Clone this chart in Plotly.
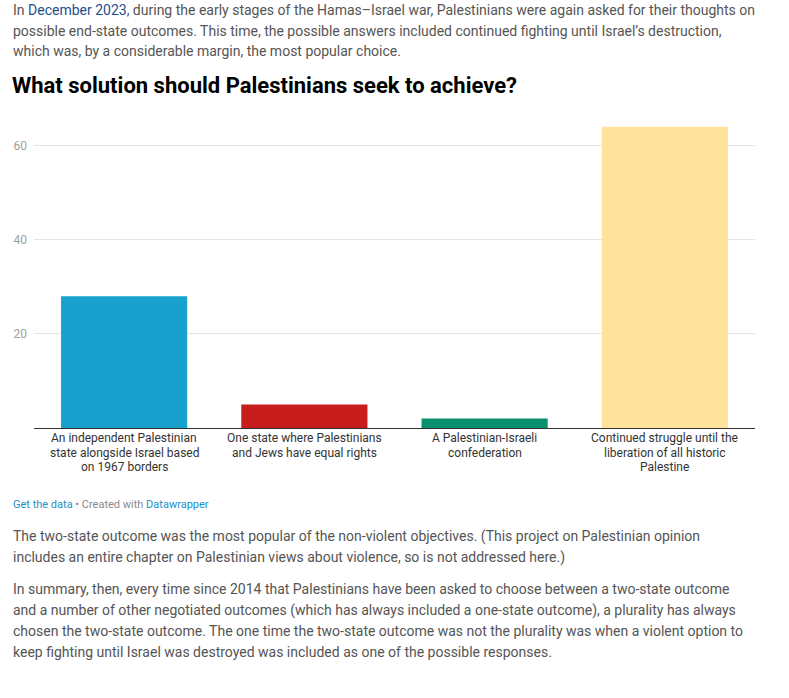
import plotly.graph_objects as go

categories = [
    "An independent Palestinian<br>state alongside Israel based<br>on 1967 borders",
    "One state where Palestinians<br>and Jews have equal rights",
    "A Palestinian-Israeli<br>confederation",
    "Continued struggle until the<br>liberation of all historic<br>Palestine",
]
values = [28, 5, 2, 64]
bar_colors = ["#18a1cd", "#c71e1d", "#09916f", "#ffe29c"]
y_ticks = [20, 40, 60]

W, H = 789, 698
L, R, T, B = 34, 34, 108, 270
PW, PH = W - L - R, H - T - B

def px(x):
    return (x - L) / PW

def py(y):
    return (H - B - y) / PH

fig = go.Figure()
fig.add_trace(go.Bar(
    x=list(range(len(categories))),
    y=values,
    marker=dict(color=bar_colors, line=dict(width=0)),
    width=0.7,
    hoverinfo="skip",
))

FONT = "Roboto"
ann = []

def line(text, x, y, size, color, bold=False):
    if bold:
        text = "<b>" + text + "</b>"
    ann.append(dict(text=text, xref="paper", yref="paper", x=px(x), y=py(y),
                    xanchor="left", yanchor="middle", showarrow=False,
                    borderpad=0, borderwidth=0,
                    font=dict(family=FONT, size=size, color=color)))

para = "#555555"
link = "#1f4e8c"
top_lines = [
    "In <span style='color:%s'>December 2023</span>, during the early stages of the Hamas–Israel war, Palestinians were again asked for their thoughts on" % link,
    "possible end-state outcomes. This time, the possible answers included continued fighting until Israel’s destruction,",
    "which was, by a considerable margin, the most popular choice.",
]
for i, t in enumerate(top_lines):
    line(t, 13, 10 + i * 20.5, 14, para)

line("What solution should Palestinians seek to achieve?", 12, 85, 22, "#000000", bold=True)

# category labels, one line each, under the bars (x from the category axis)
for i, cat in enumerate(categories):
    for j, part in enumerate(cat.split("<br>")):
        ann.append(dict(text=part, xref="x", yref="paper", x=i, y=py(438 + j * 14.5),
                        xanchor="center", yanchor="middle", showarrow=False,
                        font=dict(family=FONT, size=12, color="#333333")))

line("<span style='color:#1a91c9'>Get the data</span> • Created with <span style='color:#1a91c9'>Datawrapper</span>",
     13, 504, 11, "#8a8a8a")

bottom_lines = [
    (536, "The two-state outcome was the most popular of the non-violent objectives. (This project on Palestinian opinion"),
    (557, "includes an entire chapter on Palestinian views about violence, so is not addressed here.)"),
    (589, "In summary, then, every time since 2014 that Palestinians have been asked to choose between a two-state outcome"),
    (610, "and a number of other negotiated outcomes (which has always included a one-state outcome), a plurality has always"),
    (631, "chosen the two-state outcome. The one time the two-state outcome was not the plurality was when a violent option to"),
    (652, "keep fighting until Israel was destroyed was included as one of the possible responses."),
]
for y, t in bottom_lines:
    line(t, 13, y, 14, para)

fig.update_layout(
    width=W, height=H,
    margin=dict(l=L, r=R, t=T, b=B, pad=0),
    paper_bgcolor="white", plot_bgcolor="white",
    showlegend=False,
    annotations=ann,
    xaxis=dict(
        range=[-0.5, 3.5],
        tickmode="array", tickvals=list(range(len(categories))),
        showticklabels=False,
        showgrid=False, zeroline=False,
        showline=True, linecolor="#333333", linewidth=1,
        ticks="",
        fixedrange=True,
    ),
    yaxis=dict(
        range=[0, 68],
        tickmode="array", tickvals=y_ticks,
        showgrid=True, gridcolor="#e5e5e5", gridwidth=1,
        zeroline=False, showline=False, ticks="",
        ticklabelstandoff=6,
        tickfont=dict(family=FONT, size=12, color="#a0a0a0"),
        fixedrange=True,
    ),
)

fig.write_html("out.html", config={"displayModeBar": False},
               post_script="document.body.style.margin='0px';document.body.style.overflow='hidden';")
